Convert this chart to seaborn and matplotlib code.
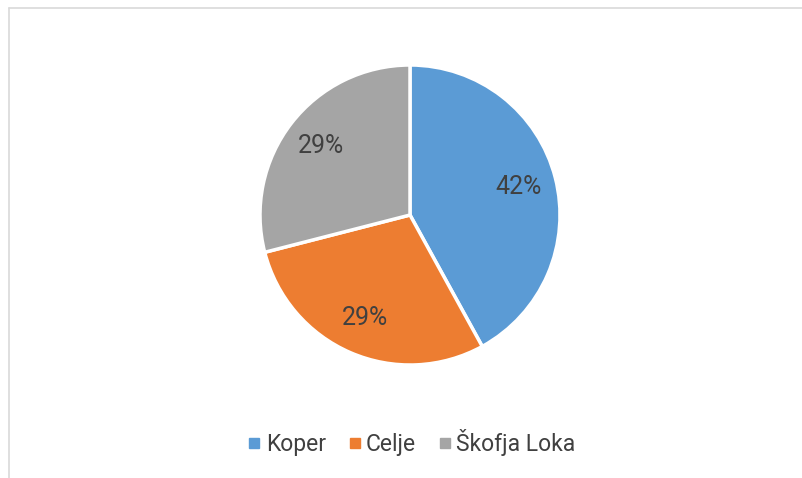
import matplotlib
matplotlib.use("Agg")
import matplotlib.pyplot as plt
from matplotlib.lines import Line2D
import seaborn as sns

# ----------------------------
# Data
# ----------------------------
cities = ["Koper", "Celje", "Škofja Loka"]
shares = [42, 29, 29]
colors = ["#5B9BD5", "#ED7D31", "#A5A5A5"]

sns.set_theme(style="white")
plt.rcParams["font.family"] = ["Roboto", "DejaVu Sans"]
palette = sns.color_palette(colors)

fig = plt.figure(figsize=(8.02, 4.78), dpi=100)
ax = fig.add_axes([260 / 802, 113 / 478, 300 / 802, 300 / 478])

wedges, texts, autotexts = ax.pie(
    shares,
    colors=palette,
    startangle=90,
    counterclock=False,
    autopct="%1.0f%%",
    pctdistance=0.75,
    wedgeprops=dict(edgecolor="white", linewidth=2.5),
    textprops=dict(color="#404040", fontsize=18),
)
ax.set_xlim(-1, 1)
ax.set_ylim(-1, 1)
ax.set_aspect("equal")

# legend along the bottom
handles = [Line2D([0], [0], marker="s", linestyle="", markersize=7,
                  markerfacecolor=c, markeredgecolor=c) for c in palette]
fig.legend(handles, cities, loc="center", bbox_to_anchor=(412 / 802, 1 - 443 / 478),
           ncol=3, frameon=False, handlelength=0.5, handletextpad=0.25,
           columnspacing=1.0, prop=dict(size=16.5),
           labelcolor="#404040")

# chart border (only top and left visible in the crop)
fig.add_artist(Line2D([9 / 802, 1], [1 - 8 / 478, 1 - 8 / 478],
                      color="#D9D9D9", linewidth=1.2, transform=fig.transFigure))
fig.add_artist(Line2D([9 / 802, 9 / 802], [0, 1 - 8 / 478],
                      color="#D9D9D9", linewidth=1.2, transform=fig.transFigure))

fig.savefig("out.png", dpi=100, facecolor="white")
